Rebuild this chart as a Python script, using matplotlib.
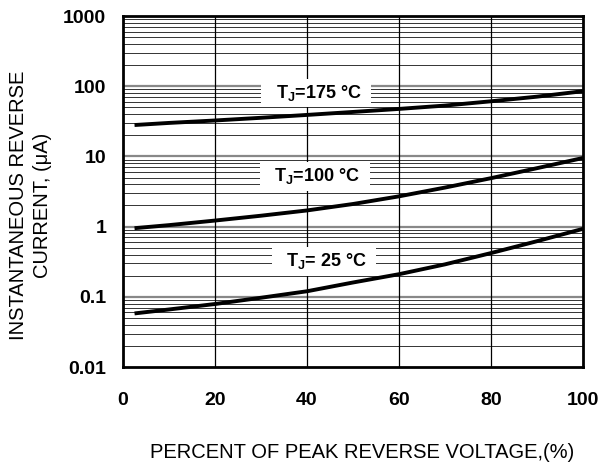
import matplotlib
matplotlib.use("Agg")
import matplotlib.pyplot as plt
import numpy as np

plt.rcParams['font.family'] = ['Liberation Sans', 'DejaVu Sans']
plt.rcParams['mathtext.fontset'] = 'custom'
plt.rcParams['mathtext.rm'] = 'Liberation Sans:bold'
plt.rcParams['mathtext.it'] = 'Liberation Sans:bold'
plt.rcParams['mathtext.bf'] = 'Liberation Sans:bold'

# data
pct = [2.5, 10, 20, 30, 40, 50, 60, 70, 80, 90, 100]
i_175 = [28, 30, 32.5, 35.5, 39, 43, 47.5, 53, 61, 71, 85]
i_100 = [0.95, 1.05, 1.22, 1.43, 1.7, 2.1, 2.7, 3.6, 4.9, 6.8, 9.5]
i_25 = [0.058, 0.066, 0.079, 0.097, 0.12, 0.16, 0.21, 0.29, 0.42, 0.62, 0.93]

x_ticks = [0, 20, 40, 60, 80, 100]
y_ticks = [0.01, 0.1, 1, 10, 100, 1000]
y_ticklabels = ['0.01', '0.1', '1', '10', '100', '1000']

labels = ['T$_J$=175 °C', 'T$_J$=100 °C', 'T$_J$= 25 °C']
label_pos = [(42, 80), (41.7, 5.2), (43.7, 0.32)]

fig = plt.figure(figsize=(6.01, 4.67), dpi=100)
ax = fig.add_axes([0.2047, 0.2141, 0.7654, 0.7516])
ax.set_yscale('log')
ax.set_xlim(0, 100)
ax.set_ylim(0.01, 1000)

# grid
for dec in [0.01, 0.1, 1, 10, 100]:
    for m in range(2, 10):
        ax.axhline(dec * m, color='#333333', lw=0.7, zorder=1)
    if dec > 0.01:
        ax.axhline(dec, color='#888888', lw=1.6, zorder=1)
for xv in [20, 40, 60, 80]:
    ax.axvline(xv, color='black', lw=0.9, zorder=1)

for ys in [i_175, i_100, i_25]:
    ax.plot(pct, ys, color='black', lw=2.8, zorder=4, solid_capstyle='butt')

for txt, (tx, ty) in zip(labels, label_pos):
    ax.text(tx, ty, '  ' + txt + '  ', fontsize=13, fontweight='bold',
            ha='center', va='center', zorder=3,
            bbox=dict(facecolor='white', edgecolor='none', pad=3))

ax.set_xticks(x_ticks)
ax.set_xticklabels([str(v) for v in x_ticks], fontsize=14, fontweight='bold')
ax.set_yticks(y_ticks)
ax.set_yticklabels(y_ticklabels, fontsize=14, fontweight='bold')
ax.yaxis.set_minor_locator(matplotlib.ticker.NullLocator())
ax.tick_params(axis='both', length=0)
ax.tick_params(axis='x', pad=18)
ax.tick_params(axis='y', pad=12)
for sp in ax.spines.values():
    sp.set_linewidth(2)
    sp.set_zorder(5)

fig.text(0.603, 0.032, 'PERCENT OF PEAK REVERSE VOLTAGE,(%)', fontsize=14.5,
         ha='center', va='center')
fig.text(0.03, 0.561, 'INSTANTANEOUS REVERSE', fontsize=14.5, rotation=90,
         ha='center', va='center')
fig.text(0.071, 0.561, 'CURRENT, (\u03bcA)', fontsize=14.5, rotation=90,
         ha='center', va='center')

fig.savefig('out.png', dpi=100)
